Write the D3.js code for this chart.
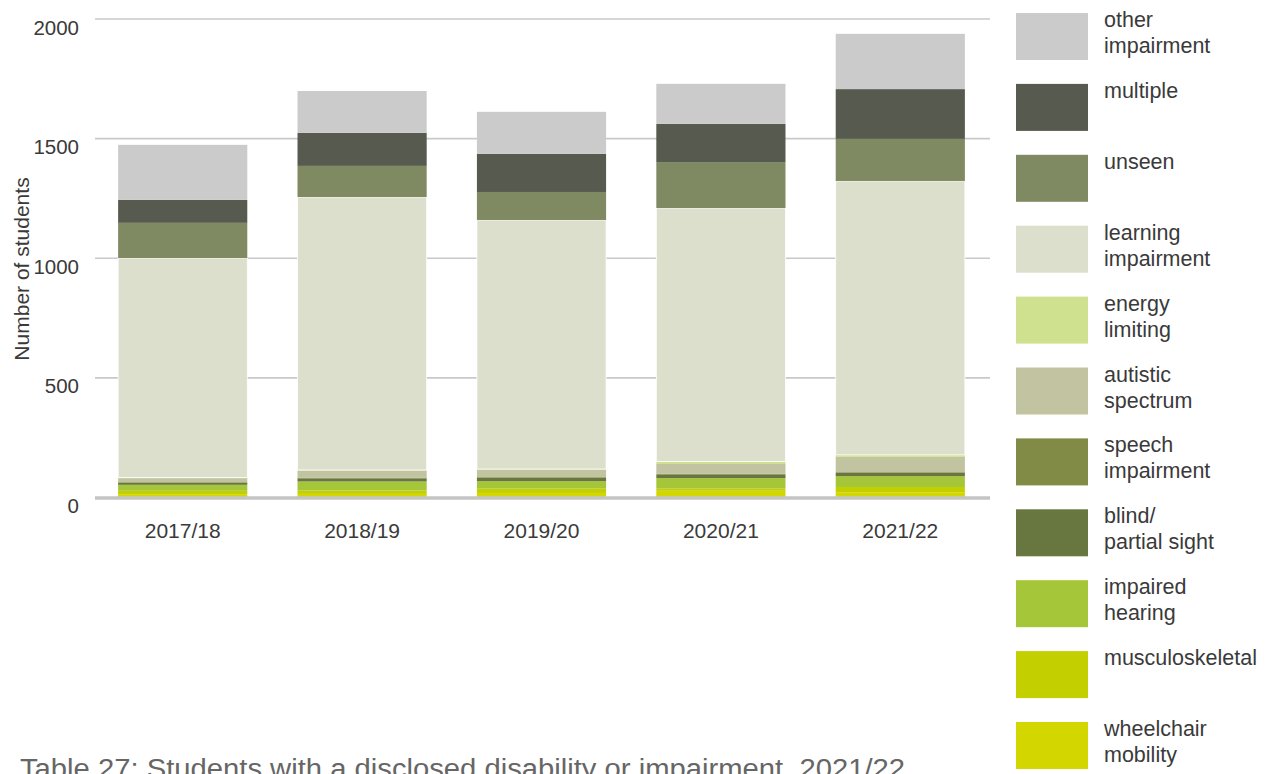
<!DOCTYPE html>
<html>
<head>
<meta charset="utf-8">
<script src="https://cdn.jsdelivr.net/npm/d3@7"></script>
<style>
  body { margin: 0; background: #fff; }
  text { font-family: "Liberation Sans", Arial, sans-serif; fill: #3a3a3a; }
</style>
</head>
<body>
<script>
'use strict';

// academic years on the x axis
const years = ["2017/18", "2018/19", "2019/20", "2020/21", "2021/22"];

// categories, bottom of the stack first
const categories = ["wheelchair", "musculoskeletal", "hearing", "blind", "speech",
  "autistic", "energy", "learning", "unseen", "multiple", "other"];

// values, one per year
const wheelchair = [14, 15, 19, 28, 22];
const musculoskeletal = [14, 14, 18, 9, 22];
const hearing = [25, 38, 31, 44, 45];
const blind = [8, 13, 14, 14, 14];
const speech = [3, 3, 3, 4, 3];
const autistic = [17, 30, 32, 41, 64];
const energy = [2, 2, 2, 10, 8];
const learning = [918, 1141, 1041, 1060, 1145];
const unseen = [147, 130, 117, 192, 176];
const multiple = [96, 138, 159, 160, 208];
const other = [230, 175, 176, 167, 231];

const yTicks = [0, 500, 1000, 1500, 2000];

// legend labels, top to bottom (each split into lines)
const legendLabels = [
  ["other", "impairment"], ["multiple"], ["unseen"], ["learning", "impairment"],
  ["energy", "limiting"], ["autistic", "spectrum"], ["speech", "impairment"],
  ["blind/", "partial sight"], ["impaired", "hearing"], ["musculoskeletal"],
  ["wheelchair", "mobility"]
];
const legendKeys = ["other", "multiple", "unseen", "learning", "energy", "autistic",
  "speech", "blind", "hearing", "musculoskeletal", "wheelchair"];

const colors = {
  wheelchair: "#d4d600", musculoskeletal: "#c4cf00", hearing: "#a5c639",
  blind: "#68773f", speech: "#818b45", autistic: "#c2c3a0", energy: "#cfe08f",
  learning: "#dddfcd", unseen: "#7f8a63", multiple: "#575a4e", other: "#cbcbcb"
};

const series = { wheelchair, musculoskeletal, hearing, blind, speech, autistic,
  energy, learning, unseen, multiple, other };

// build row table for d3.stack
const rows = years.map((y, i) => {
  let r = { year: y };
  categories.forEach(c => { r[c] = series[c][i]; });
  return r;
});

const svg = d3.select("body").append("svg")
  .attr("width", 1272)
  .attr("height", 774);

const xScale = d3.scaleBand()
  .domain(years)
  .range([93, 990])
  .paddingInner(0.28)
  .paddingOuter(0.14);

const yScale = d3.scaleLinear()
  .domain([0, 2000])
  .range([497.5, 19]);

// gridlines
svg.append("g")
  .selectAll("line")
  .data(yTicks.filter(t => t > 0))
  .enter()
  .append("line")
  .attr("x1", 95)
  .attr("x2", 990)
  .attr("y1", d => yScale(d))
  .attr("y2", d => yScale(d))
  .style("stroke", "#c9c9c9")
  .style("stroke-width", 1.6);

// y tick labels sit a little below their lines
svg.append("g")
  .selectAll("text")
  .data(yTicks)
  .enter()
  .append("text")
  .attr("x", 79)
  .attr("y", d => yScale(d) + 15.5)
  .attr("text-anchor", "end")
  .style("font-size", "20.5px")
  .text(d => d);

// stacked bars
const stacked = d3.stack().keys(categories)(rows);

svg.append("g")
  .selectAll("g")
  .data(stacked)
  .enter()
  .append("g")
  .attr("fill", d => colors[d.key])
  .style("stroke", d => d.key === "learning" ? "#ffffff" : "none")
  .style("stroke-width", 0.8)
  .selectAll("rect")
  .data(d => d)
  .enter()
  .append("rect")
  .attr("x", d => xScale(d.data.year))
  .attr("width", xScale.bandwidth())
  .attr("y", d => yScale(d[1]))
  .attr("height", d => yScale(d[0]) - yScale(d[1]));

// baseline
svg.append("line")
  .attr("x1", 95)
  .attr("x2", 990)
  .attr("y1", yScale(0) + 0.5)
  .attr("y2", yScale(0) + 0.5)
  .style("stroke", "#c4c4c4")
  .style("stroke-width", 3.5);

// x labels
svg.append("g")
  .selectAll("text")
  .data(years)
  .enter()
  .append("text")
  .attr("x", d => xScale(d) + xScale.bandwidth() / 2)
  .attr("y", 537.5)
  .attr("text-anchor", "middle")
  .style("font-size", "21px")
  .text(d => d);

// y axis title
svg.append("text")
  .attr("transform", "translate(29, 269)rotate(-90)")
  .attr("text-anchor", "middle")
  .style("font-size", "21px")
  .text("Number of students");

// legend
const legendY = d3.scaleLinear().domain([0, 10]).range([13, 722]);

const legend = svg.append("g")
  .selectAll("g")
  .data(legendKeys)
  .enter()
  .append("g")
  .attr("transform", (d, i) => "translate(1016, " + legendY(i) + ")");

legend.append("rect")
  .attr("width", 72)
  .attr("height", 47)
  .attr("fill", d => colors[d]);

legend.append("text")
  .attr("x", 88)
  .attr("y", 14)
  .style("font-size", "21.5px")
  .selectAll("tspan")
  .data((d, i) => legendLabels[i])
  .enter()
  .append("tspan")
  .attr("x", 88)
  .attr("dy", (d, i) => i === 0 ? 0 : 26)
  .text(d => d);

// caption
svg.append("text")
  .attr("x", 20)
  .attr("y", 778)
  .attr("textLength", 885)
  .attr("lengthAdjust", "spacingAndGlyphs")
  .style("font-size", "27px")
  .style("fill", "#666")
  .text("Table 27: Students with a disclosed disability or impairment, 2021/22");
</script>
</body>
</html>
